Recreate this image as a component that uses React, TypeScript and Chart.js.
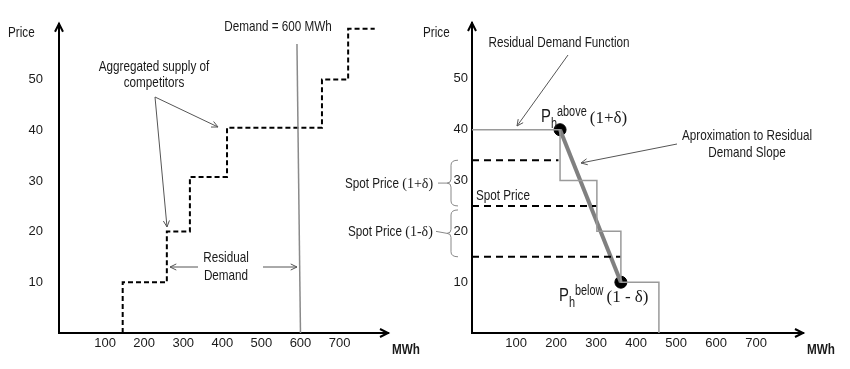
import React, { useEffect, useRef } from 'react';
import { Chart, registerables } from 'chart.js';
Chart.register(...registerables);

const SANS = "'Liberation Sans', Arial, sans-serif";
const SERIF = "'Liberation Serif', 'Times New Roman', serif";
const SQUEEZE = 0.78; // the reference uses a narrow sans face

// ---- shared ticks ----
const xTickValues = [100, 200, 300, 400, 500, 600, 700];
const yTickValues = [10, 20, 30, 40, 50];

// ---- left panel: aggregated supply of competitors (step) ----
const supplyX = [145, 145, 258, 258, 317, 317, 412, 412, 655, 655, 722, 722, 790];
const supplyY = [0, 10, 10, 20, 20, 30.8, 30.8, 40.5, 40.5, 50, 50, 60, 60];
// demand line (600 MWh)
const demandX = [600, 591];
const demandY = [0, 57];

// ---- right panel ----
const residX = [-10, 210, 210, 302, 302, 362, 362, 457, 457];
const residY = [40, 40, 30, 30, 20, 20, 10, 10, 0];
const pointsX = [210, 362];
const pointsY = [40, 10];
const spotLevels = [34, 25, 15];
const spotEnds = [206, 302, 362];

const LEFT_X = { min: -18, max: 824 };
const RIGHT_X = { min: -10, max: 817 };
const Y_RANGE = { min: 0, max: 61 };

const zip = (xs: number[], ys: number[]) => xs.map((x, i) => ({ x, y: ys[i] }));

function arrow(ctx: CanvasRenderingContext2D, x1: number, y1: number, x2: number, y2: number, color = '#555', lw = 1, head = 7) {
  ctx.save();
  ctx.strokeStyle = color;
  ctx.lineWidth = lw;
  ctx.beginPath();
  ctx.moveTo(x1, y1);
  ctx.lineTo(x2, y2);
  ctx.stroke();
  const a = Math.atan2(y2 - y1, x2 - x1);
  const s = 0.45;
  ctx.beginPath();
  ctx.moveTo(x2 - head * Math.cos(a - s), y2 - head * Math.sin(a - s));
  ctx.lineTo(x2, y2);
  ctx.lineTo(x2 - head * Math.cos(a + s), y2 - head * Math.sin(a + s));
  ctx.stroke();
  ctx.restore();
}

function axisArrows(ctx: CanvasRenderingContext2D, area: any) {
  ctx.save();
  ctx.strokeStyle = '#000';
  ctx.lineWidth = 2;
  const h = 8, w = 4;
  ctx.beginPath();
  ctx.moveTo(area.left - w, area.top + h);
  ctx.lineTo(area.left, area.top);
  ctx.lineTo(area.left + w, area.top + h);
  ctx.stroke();
  ctx.beginPath();
  ctx.moveTo(area.right - h, area.bottom - w);
  ctx.lineTo(area.right, area.bottom);
  ctx.lineTo(area.right - h, area.bottom + w);
  ctx.stroke();
  ctx.restore();
}

function text(ctx: CanvasRenderingContext2D, t: string, x: number, y: number, align: CanvasTextAlign = 'center', font = `15px ${SANS}`) {
  ctx.save();
  ctx.fillStyle = '#1a1a1a';
  ctx.font = font;
  ctx.textAlign = align;
  ctx.textBaseline = 'middle';
  ctx.translate(x, y);
  ctx.scale(SQUEEZE, 1);
  ctx.fillText(t, 0, 0);
  ctx.restore();
}

function runs(ctx: CanvasRenderingContext2D, x: number, y: number, parts: { t: string; f: string; dy?: number; sq?: boolean }[]) {
  ctx.save();
  ctx.fillStyle = '#1a1a1a';
  ctx.textAlign = 'left';
  ctx.textBaseline = 'alphabetic';
  let cx = x;
  for (const p of parts) {
    ctx.font = p.f;
    const k = p.sq ? SQUEEZE : 1;
    ctx.save();
    ctx.translate(cx, y + (p.dy || 0));
    ctx.scale(k, 1);
    ctx.fillText(p.t, 0, 0);
    ctx.restore();
    cx += ctx.measureText(p.t).width * k;
  }
  ctx.restore();
}

function brace(ctx: CanvasRenderingContext2D, yTop: number, yBot: number, xEnd: number, xSpine: number, xTip: number) {
  const yc = (yTop + yBot) / 2;
  ctx.save();
  ctx.strokeStyle = '#888';
  ctx.lineWidth = 1;
  ctx.beginPath();
  ctx.moveTo(xEnd, yTop);
  ctx.quadraticCurveTo(xSpine, yTop, xSpine, yTop + 5);
  ctx.lineTo(xSpine, yc - 4);
  ctx.quadraticCurveTo(xSpine, yc, xTip, yc);
  ctx.quadraticCurveTo(xSpine, yc, xSpine, yc + 4);
  ctx.lineTo(xSpine, yBot - 5);
  ctx.quadraticCurveTo(xSpine, yBot, xEnd, yBot);
  ctx.stroke();
  ctx.restore();
}

function scales(xr: { min: number; max: number }, yAxisWidth: number, yPad: number) {
  const tickFont = { family: SANS, size: 13 };
  return {
    x: {
      type: 'linear',
      min: xr.min,
      max: xr.max,
      grid: { display: false, drawTicks: false },
      border: { display: true, color: '#000', width: 2 },
      afterBuildTicks: (s: any) => { s.ticks = xTickValues.map((v) => ({ value: v })); },
      afterFit: (s: any) => { s.height = 36; },
      ticks: { padding: 3, color: '#1a1a1a', font: tickFont, maxRotation: 0, autoSkip: false, callback: (v: any) => String(v) },
    },
    y: {
      type: 'linear',
      min: Y_RANGE.min,
      max: Y_RANGE.max,
      grid: { display: false, drawTicks: false },
      border: { display: true, color: '#000', width: 2 },
      afterBuildTicks: (s: any) => { s.ticks = yTickValues.map((v) => ({ value: v })); },
      afterFit: (s: any) => { s.width = yAxisWidth; },
      ticks: { padding: yPad, color: '#1a1a1a', font: tickFont, autoSkip: false, callback: (v: any) => String(v) },
    },
  };
}

const baseOpts = (rightPad: number) => ({
  responsive: false,
  animation: false,
  devicePixelRatio: 1,
  events: [],
  layout: { padding: { left: 0, right: rightPad, top: 23, bottom: 0 } },
  plugins: { legend: { display: false }, tooltip: { enabled: false } },
});

const leftPlugin = {
  id: 'leftDeco',
  afterDraw(chart: any) {
    const ctx = chart.ctx as CanvasRenderingContext2D;
    axisArrows(ctx, chart.chartArea);
    text(ctx, 'Price', 8, 33, 'left');
    text(ctx, 'Demand = 600 MWh', 278, 27);
    text(ctx, 'Aggregated supply of', 154, 67);
    text(ctx, 'competitors', 154, 83);
    text(ctx, 'Residual', 226, 258);
    text(ctx, 'Demand', 226, 276);
    text(ctx, 'MWh', 392, 350, 'left', `bold 15px ${SANS}`);
    arrow(ctx, 155, 97, 167, 227);
    arrow(ctx, 155, 97, 218, 127);
    arrow(ctx, 198, 267, 170, 267);
    arrow(ctx, 263, 267, 297, 267);
  },
};

const rightPlugin = {
  id: 'rightDeco',
  afterDraw(chart: any) {
    const ctx = chart.ctx as CanvasRenderingContext2D;
    const y = chart.scales.y;
    axisArrows(ctx, chart.chartArea);
    text(ctx, 'Price', 423, 33, 'left');
    text(ctx, 'Residual Demand Function', 559, 43);
    text(ctx, 'Spot Price', 476, 196, 'left');
    text(ctx, 'Aproximation to Residual', 747, 136);
    text(ctx, 'Demand Slope', 747, 153);
    text(ctx, 'MWh', 807, 350, 'left', `bold 15px ${SANS}`);
    arrow(ctx, 568, 55, 517, 126);
    arrow(ctx, 677, 144, 581, 163);
    // braces around spot price band
    const b1t = y.getPixelForValue(spotLevels[0]);
    const b1b = y.getPixelForValue(spotLevels[1]);
    const b2t = y.getPixelForValue(spotLevels[1]) + 4;
    const b2b = y.getPixelForValue(spotLevels[2]);
    brace(ctx, b1t, b1b, 458, 451, 447);
    brace(ctx, b2t, b2b, 458, 451, 447);
    const m1 = (b1t + b1b) / 2, m2 = (b2t + b2b) / 2;
    ctx.save();
    ctx.strokeStyle = '#888';
    ctx.lineWidth = 1;
    ctx.beginPath();
    ctx.moveTo(438, m1); ctx.lineTo(447, m1);
    ctx.moveTo(436, m2 - 2); ctx.lineTo(447, m2);
    ctx.stroke();
    ctx.restore();
    runs(ctx, 345, m1 + 5, [
      { t: 'Spot Price ', f: `15px ${SANS}`, sq: true },
      { t: '(1+δ)', f: `14px ${SERIF}` },
    ]);
    runs(ctx, 348, m2 + 3, [
      { t: 'Spot Price ', f: `15px ${SANS}`, sq: true },
      { t: '(1-δ)', f: `14px ${SERIF}` },
    ]);
    runs(ctx, 541, 122, [
      { t: 'P', f: `19px ${SANS}`, sq: true },
      { t: 'h', f: `14px ${SANS}`, dy: 6, sq: true },
      { t: 'above ', f: `14px ${SANS}`, dy: -6, sq: true },
      { t: '(1+δ)', f: `17px ${SERIF}`, dy: 1 },
    ]);
    runs(ctx, 559, 301, [
      { t: 'P', f: `19px ${SANS}`, sq: true },
      { t: 'h', f: `14px ${SANS}`, dy: 6, sq: true },
      { t: 'below ', f: `14px ${SANS}`, dy: -6, sq: true },
      { t: '(1 - δ)', f: `17px ${SERIF}`, dy: 1 },
    ]);
  },
};

function leftConfig(): any {
  return {
    type: 'scatter',
    data: {
      datasets: [
        {
          data: zip(demandX, demandY),
          showLine: true,
          borderColor: '#8a8a8a',
          borderWidth: 1.5,
          pointRadius: 0,
        },
        {
          data: zip(supplyX, supplyY),
          showLine: true,
          borderColor: '#000',
          borderWidth: 2,
          borderDash: [5, 3],
          pointRadius: 0,
          clip: false,
        },
      ],
    },
    options: { ...baseOpts(850 - 388), scales: scales(LEFT_X, 59, 16) },
    plugins: [leftPlugin],
  };
}

function rightConfig(): any {
  const dashSets = spotLevels.map((lvl, i) => ({
    data: [{ x: RIGHT_X.min, y: lvl }, { x: spotEnds[i], y: lvl }],
    showLine: true,
    borderColor: '#000',
    borderWidth: 2,
    borderDash: [7, 5],
    pointRadius: 0,
  }));
  return {
    type: 'scatter',
    data: {
      datasets: [
        {
          data: zip(residX, residY),
          showLine: true,
          borderColor: '#9a9a9a',
          borderWidth: 1.5,
          pointRadius: 0,
          clip: false,
        },
        ...dashSets,
        {
          data: zip(pointsX, pointsY),
          showLine: true,
          borderColor: '#808080',
          borderWidth: 4,
          pointRadius: 0,
        },
        {
          data: zip(pointsX, pointsY),
          showLine: false,
          pointRadius: 6,
          pointBackgroundColor: '#000',
          pointBorderColor: '#000',
          clip: false,
        },
      ],
    },
    options: { ...baseOpts(850 - 803), scales: scales(RIGHT_X, 472, 4) },
    plugins: [rightPlugin],
  };
}

export default function App() {
  const leftRef = useRef<HTMLCanvasElement>(null);
  const rightRef = useRef<HTMLCanvasElement>(null);
  useEffect(() => {
    const c1 = new Chart(leftRef.current as HTMLCanvasElement, leftConfig());
    const c2 = new Chart(rightRef.current as HTMLCanvasElement, rightConfig());
    return () => {
      c1.destroy();
      c2.destroy();
    };
  }, []);
  return (
    <div style={{ position: 'fixed', left: 0, top: 0, width: 850, height: 369, background: '#fff' }}>
      <canvas ref={leftRef} width={850} height={369} style={{ position: 'absolute', left: 0, top: 0 }} />
      <canvas ref={rightRef} width={850} height={369} style={{ position: 'absolute', left: 0, top: 0 }} />
    </div>
  );
}
